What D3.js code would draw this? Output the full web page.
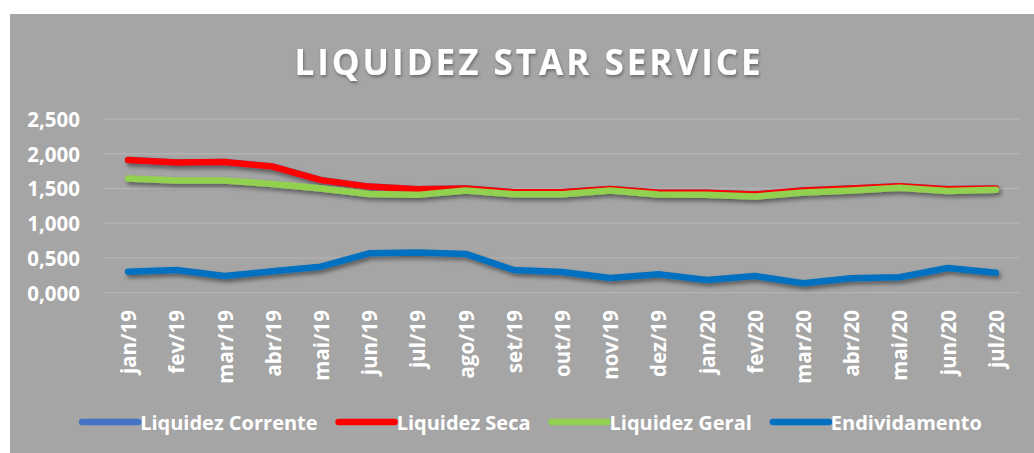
<!DOCTYPE html>
<html>
<head>
<meta charset="utf-8">
<script src="https://cdn.jsdelivr.net/npm/d3@7"></script>
<style>
  body { margin: 0; background: #fff; }
  text { font-family: "Open Sans", sans-serif; font-weight: bold; fill: #fff; }
</style>
</head>
<body>
<svg id="chart"></svg>
<script>
const months = ["jan/19","fev/19","mar/19","abr/19","mai/19","jun/19","jul/19","ago/19","set/19","out/19",
  "nov/19","dez/19","jan/20","fev/20","mar/20","abr/20","mai/20","jun/20","jul/20"]
const corrente = [1.910,1.873,1.880,1.816,1.620,1.527,1.490,1.500,1.447,1.447,1.494,1.437,1.437,1.412,1.470,1.500,1.533,1.490,1.500]
const seca     = [1.910,1.873,1.880,1.816,1.620,1.527,1.490,1.500,1.447,1.447,1.494,1.437,1.437,1.412,1.470,1.500,1.533,1.490,1.500]
const geral    = [1.643,1.614,1.614,1.566,1.500,1.420,1.408,1.470,1.418,1.418,1.470,1.412,1.408,1.383,1.441,1.470,1.509,1.465,1.480]
const endiv    = [0.303,0.327,0.240,0.308,0.375,0.567,0.577,0.558,0.327,0.298,0.212,0.265,0.183,0.240,0.135,0.207,0.222,0.356,0.288]
const yTicks = [0, 0.5, 1, 1.5, 2, 2.5]

const series = [
  {name: "Liquidez Corrente", values: corrente, color: "#4472c4"},
  {name: "Liquidez Seca", values: seca, color: "#ff0000"},
  {name: "Liquidez Geral", values: geral, color: "#92d050"},
  {name: "Endividamento", values: endiv, color: "#0070c0"}
]

const width = 1034, height = 453
const svg = d3.select("#chart").attr("width", width).attr("height", height)

const defs = svg.append("defs")
defs.append("filter").attr("id", "shadow")
  .attr("x", "-10%").attr("y", "-50%").attr("width", "120%").attr("height", "200%")
  .append("feDropShadow")
  .attr("dx", 2).attr("dy", 3).attr("stdDeviation", 2)
  .attr("flood-color", "#000").attr("flood-opacity", 0.45)
defs.append("filter").attr("id", "tshadow")
  .append("feDropShadow")
  .attr("dx", 1).attr("dy", 2).attr("stdDeviation", 1.5)
  .attr("flood-color", "#000").attr("flood-opacity", 0.35)

// chart panel
svg.append("rect").attr("x", 10).attr("y", 14).attr("width", width - 10).attr("height", height - 14)
  .attr("fill", "#a5a5a5")

svg.append("text")
  .attr("x", 529).attr("y", 75)
  .attr("text-anchor", "middle")
  .style("font-size", "35px")
  .style("letter-spacing", "3px")
  .attr("filter", "url(#tshadow)")
  .text("LIQUIDEZ STAR SERVICE")

const x = d3.scalePoint().domain(months).range([104, 1020]).padding(0.5)
const y = d3.scaleLinear().domain([0, 2.5]).range([292.7, 119])

// gridlines
svg.append("g").selectAll("line").data(yTicks).enter().append("line")
  .attr("x1", 104).attr("x2", 1020)
  .attr("y1", d => y(d)).attr("y2", d => y(d))
  .attr("stroke", "#b3b3b3").attr("stroke-width", 1.3)

// y labels
const fmt = d => d3.format(".3f")(d).replace(".", ",")
svg.append("g").selectAll("text").data(yTicks).enter().append("text")
  .attr("x", 80).attr("y", d => y(d))
  .attr("text-anchor", "end").attr("dominant-baseline", "central")
  .style("font-size", "20.5px")
  .text(fmt)

// x labels
svg.append("g").selectAll("text").data(months).enter().append("text")
  .attr("transform", d => `translate(${x(d)},310) rotate(-90)`)
  .attr("text-anchor", "end").attr("dominant-baseline", "central")
  .style("font-size", "20.5px")
  .text(d => d)

// lines
const line = d3.line()
  .x((d, i) => x(months[i]))
  .y(d => y(d))
svg.append("g").attr("filter", "url(#shadow)")
  .selectAll("path").data(series).enter().append("path")
  .attr("d", d => line(d.values))
  .attr("fill", "none")
  .attr("stroke", d => d.color)
  .attr("stroke-width", 6.5)
  .attr("stroke-linecap", "round")
  .attr("stroke-linejoin", "round")

// legend
const legend = svg.append("g")
let cx = 0
series.forEach(s => {
  const g = legend.append("g")
  g.append("line").attr("x1", 0).attr("x2", 56).attr("y1", 0).attr("y2", 0)
    .attr("stroke", s.color).attr("stroke-width", 6.5).attr("stroke-linecap", "round")
  const t = g.append("text").attr("x", 58).attr("y", 0)
    .attr("dominant-baseline", "central")
    .style("font-size", "20px")
    .text(s.name)
  g.attr("transform", `translate(${cx},0)`)
  cx += 58 + t.node().getComputedTextLength() + 21
})
const total = cx - 21
legend.attr("transform", `translate(${532 - total / 2},422)`)
</script>
</body>
</html>
